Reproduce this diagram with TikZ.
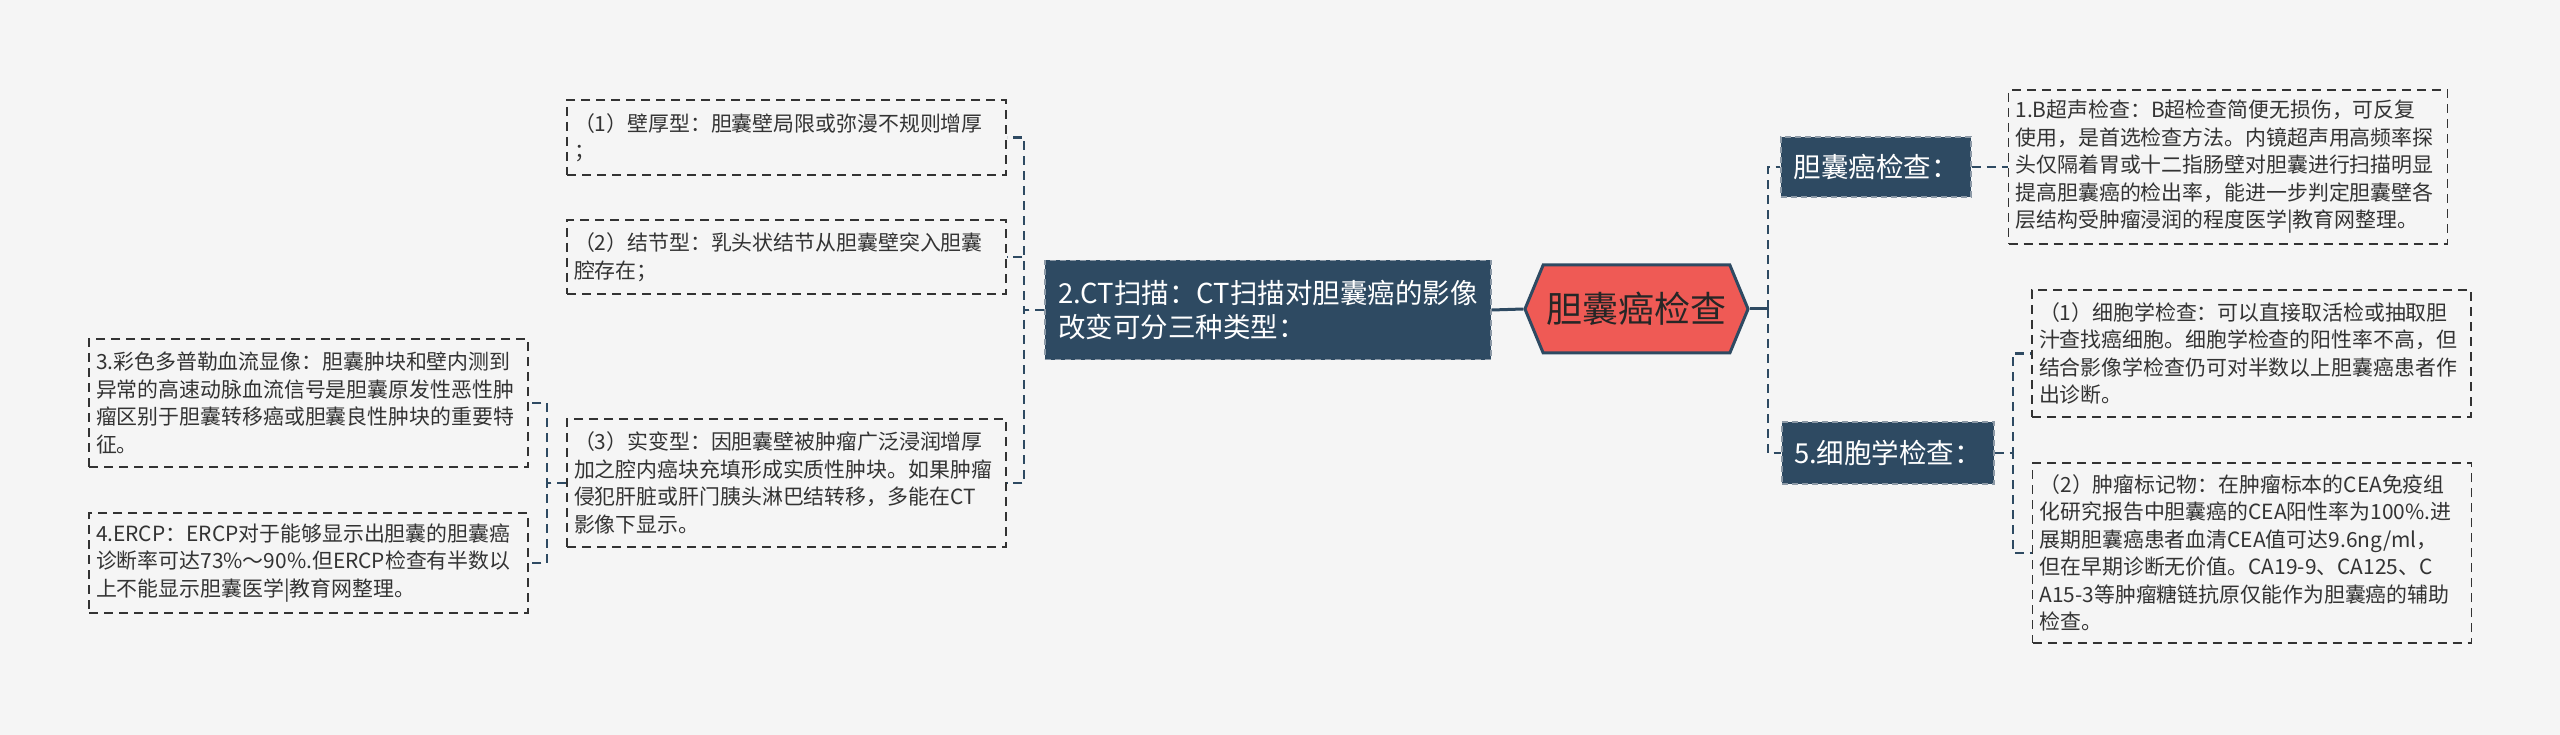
\documentclass[tikz,border=0pt]{standalone}
\usepackage{fontspec}
\setmainfont{Noto Sans CJK SC}
\usetikzlibrary{shapes.symbols}
\definecolor{paper}{HTML}{F5F5F5}
\definecolor{slate}{HTML}{2E4A62}
\definecolor{hexred}{HTML}{EF5A55}
\definecolor{ink}{HTML}{333333}
\definecolor{rim}{HTML}{8C99A6}
\tikzset{
  link/.style={draw=slate, line width=2.2pt, dash pattern=on 9pt off 6pt},
  trunk/.style={draw=slate, line width=3pt},
  leaf/.style={draw=ink, line width=1.5pt, dash pattern=on 9pt off 6pt, text=ink,
    align=left, inner xsep=7pt, inner ysep=3pt, text width=425pt,
    font=\fontsize{20.9}{27.5}\selectfont},
  topic/.style={fill=slate, draw=rim, line width=1.5pt, dash pattern=on 6pt off 4pt,
    text=white, font=\fontsize{27.5}{34}\selectfont},
  hub/.style={shape=signal, signal to=west and east, signal pointer angle=135,
    fill=hexred, draw=slate, line width=3pt, text=black!85,
    minimum width=214pt, minimum height=88pt, font=\fontsize{36}{40}\selectfont}
}
\begin{document}
\begin{tikzpicture}[x=1pt,y=-1pt]
  \fill[paper] (0,0) rectangle (2560,735);
  \node[hub] (root) at (1636.5,309) {胆囊癌检查};
  \node[topic, align=left, text width=420pt, inner xsep=13pt, minimum height=99pt]
    (ct) at (1268,310) {2.CT扫描：CT扫描对胆囊癌的影像\\改变可分三种类型：};
  \node[leaf, minimum height=75pt] (wall) at (786.5,137.5)
    {（1）壁厚型：胆囊壁局限或弥漫不规则增厚\\；};
  \node[leaf, minimum height=74pt] (nodule) at (786.5,257)
    {（2）结节型：乳头状结节从胆囊壁突入胆囊\\腔存在；};
  \node[leaf, minimum height=128pt] (solid) at (786.5,483)
    {（3）实变型：因胆囊壁被肿瘤广泛浸润增厚\\加之腔内癌块充填形成实质性肿块。如果肿瘤\\侵犯肝脏或肝门胰头淋巴结转移，多能在CT\\影像下显示。};
  \node[leaf, minimum height=128pt] (doppler) at (308.5,403)
    {3.彩色多普勒血流显像：胆囊肿块和壁内测到\\异常的高速动脉血流信号是胆囊原发性恶性肿\\瘤区别于胆囊转移癌或胆囊良性肿块的重要特\\征。};
  \node[leaf, minimum height=100pt] (ercp) at (308.5,563)
    {4.ERCP：ERCP对于能够显示出胆囊的胆囊癌\\诊断率可达73\%～90\%.但ERCP检查有半数以\\上不能显示胆囊医学|教育网整理。};
  \node[topic, minimum width=190pt, minimum height=60pt] (exam) at (1876,167) {胆囊癌检查：};
  \node[topic, minimum width=212pt, minimum height=62pt] (cyto) at (1888,453) {5.细胞学检查：};
  \node[leaf, minimum height=154pt] (bscan) at (2228,167)
    {1.B超声检查：B超检查简便无损伤，可反复\\使用，是首选检查方法。内镜超声用高频率探\\头仅隔着胃或十二指肠壁对胆囊进行扫描明显\\提高胆囊癌的检出率，能进一步判定胆囊壁各\\层结构受肿瘤浸润的程度医学|教育网整理。};
  \node[leaf, minimum height=127pt] (smear) at (2251.5,353.5)
    {（1）细胞学检查：可以直接取活检或抽取胆\\汁查找癌细胞。细胞学检查的阳性率不高，但\\结合影像学检查仍可对半数以上胆囊癌患者作\\出诊断。};
  \node[leaf, minimum height=180pt] (marker) at (2252,553)
    {（2）肿瘤标记物：在肿瘤标本的CEA免疫组\\化研究报告中胆囊癌的CEA阳性率为100\%.进\\展期胆囊癌患者血清CEA值可达9.6ng/ml，\\但在早期诊断无价值。CA19-9、CA125、C\\A15-3等肿瘤糖链抗原仅能作为胆囊癌的辅助\\检查。};
  \draw[trunk] (root.west) -- (ct.east);
  \draw[trunk] (root.east) -- ++(18,0) coordinate (fork);
  \begin{scope}[link]
    \draw (fork) |- (exam.west);
    \draw (fork) |- (cyto.west);
    \foreach \n in {wall,nodule,solid}
      \draw (ct.west) -- ++(-20,0) |- (\n.east);
    \foreach \n in {doppler,ercp}
      \draw (solid.west) -- ++(-19,0) |- (\n.east);
    \draw (exam.east) -- (bscan.west);
    \foreach \n in {smear,marker}
      \draw (cyto.east) -- ++(18,0) |- (\n.west);
  \end{scope}
\end{tikzpicture}
\end{document}
